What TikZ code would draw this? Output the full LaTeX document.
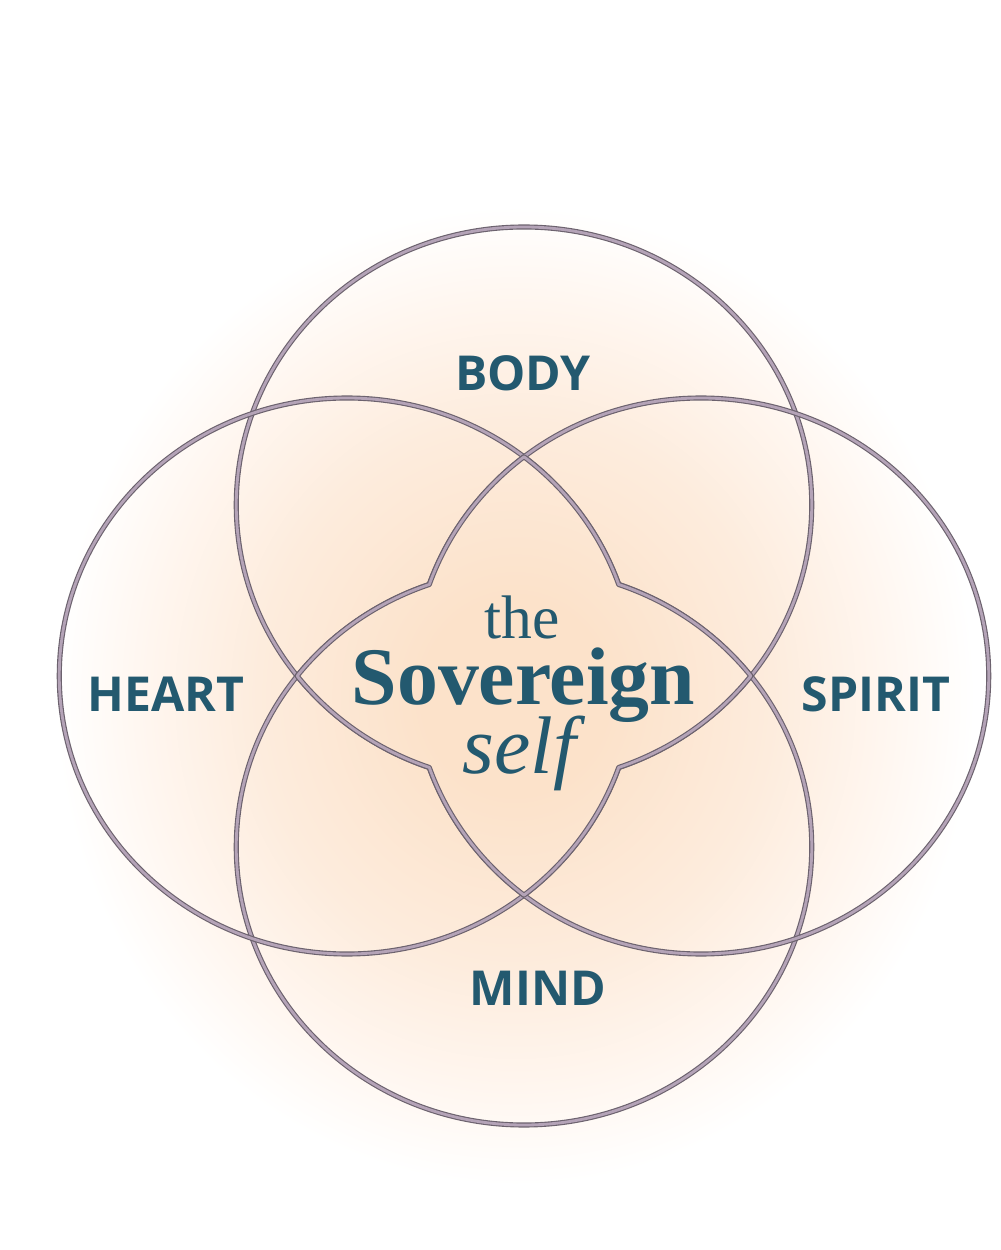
\documentclass[tikz,border=0pt]{standalone}
\usepackage{fontspec}
\newfontfamily\labelfont{Open Sans}
\newfontfamily\titlefont{Liberation Serif}
\definecolor{ringedge}{RGB}{108,98,110}
\definecolor{ringfill}{RGB}{180,163,183}
\definecolor{tealtext}{RGB}{35,89,111}
\definecolor{peachA}{RGB}{252,226,202}
\definecolor{peachB}{RGB}{253,236,221}
\definecolor{peachC}{RGB}{255,246,239}
\pgfdeclareradialshading{glow}{\pgfpoint{0bp}{0bp}}{color(0bp)=(peachA); color(5bp)=(peachA); color(14bp)=(peachB); color(20bp)=(peachC); color(25bp)=(white); color(50bp)=(white)}
\begin{document}
\begin{tikzpicture}[
  ring/.style={draw=ringedge, double=ringfill, line width=0.65pt, double distance=1.6pt, line join=round},
  lbl/.style={font=\labelfont\bfseries\fontsize{27.4}{30}\selectfont, text=tealtext, inner sep=0pt, anchor=base},
  ttl/.style={text=tealtext, inner sep=0pt, anchor=base},
]
\useasboundingbox[fill=white] (-10.48,-11.48) rectangle (9.52,13.52);
% soft glow
\shade[shading=glow] (-0.18,-0.4) ellipse [x radius=9.2cm, y radius=9.8cm];
% four circles
\draw[ring, xscale=1.035] (0,3.42) circle[radius=5.56cm];
\draw[ring, xscale=1.035] (0,-3.42) circle[radius=5.56cm];
\draw[ring, xscale=1.035] (-3.42,0) circle[radius=5.56cm];
\draw[ring, xscale=1.035] (3.42,0) circle[radius=5.56cm];
% clear the inner arcs of the central flower
\begin{scope}
  \clip[xscale=1.035] (0,4.384)
    arc[start angle=127.96, end angle=160.78, radius=5.56cm]
    arc[start angle=109.22, end angle=142.04, radius=5.56cm]
    arc[start angle=217.96, end angle=250.78, radius=5.56cm]
    arc[start angle=199.22, end angle=232.04, radius=5.56cm]
    arc[start angle=307.96, end angle=340.78, radius=5.56cm]
    arc[start angle=289.22, end angle=322.04, radius=5.56cm]
    arc[start angle=37.96, end angle=70.78, radius=5.56cm]
    arc[start angle=19.22, end angle=52.04, radius=5.56cm] -- cycle;
  \shade[shading=glow] (-0.18,-0.4) ellipse [x radius=9.2cm, y radius=9.8cm];
\end{scope}
\draw[ring, xscale=1.035] (0,4.384)
    arc[start angle=127.96, end angle=160.78, radius=5.56cm]
    arc[start angle=109.22, end angle=142.04, radius=5.56cm]
    arc[start angle=217.96, end angle=250.78, radius=5.56cm]
    arc[start angle=199.22, end angle=232.04, radius=5.56cm]
    arc[start angle=307.96, end angle=340.78, radius=5.56cm]
    arc[start angle=289.22, end angle=322.04, radius=5.56cm]
    arc[start angle=37.96, end angle=70.78, radius=5.56cm]
    arc[start angle=19.22, end angle=52.04, radius=5.56cm] -- cycle;
% labels
\node[lbl] (body) at (-0.02,5.70) {BODY};
\node[lbl] (heart) at (-7.16,-0.70) {HEART};
\node[lbl] (spirit) at (7.04,-0.70) {SPIRIT};
\node[lbl] (mind) at (0.28,-6.58) {MIND};
% title
\node[ttl, font=\titlefont\fontsize{35}{38}\selectfont] (the) at (-0.04,0.74) {the};
\node[ttl, font=\titlefont\bfseries\fontsize{46.5}{50}\selectfont] (sov) at (-0.01,-0.58) {Sovereign};
\node[ttl, font=\titlefont\itshape\fontsize{46.5}{50}\selectfont] (self) at (-0.10,-1.94) {self};
\end{tikzpicture}
\end{document}
